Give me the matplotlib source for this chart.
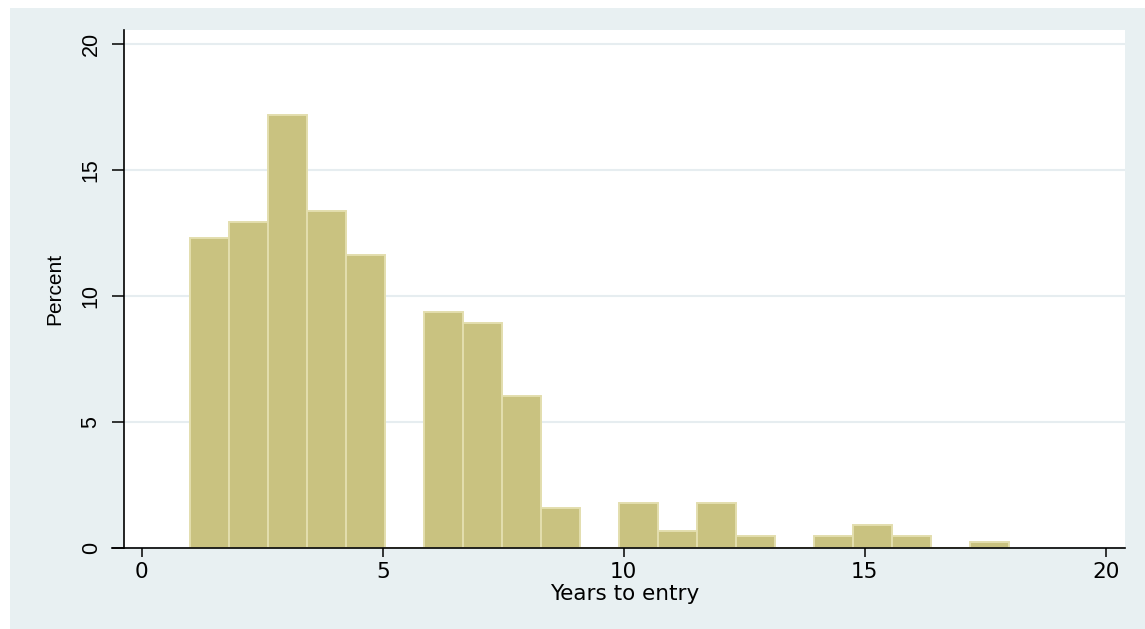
import matplotlib.pyplot as plt
import matplotlib.patches as patches
import numpy as np

plt.rcParams['font.family'] = ['Liberation Sans', 'DejaVu Sans']

# histogram: 21 bins of equal width between 1 and 18 years
bin_start = 1.0
bin_end = 18.0
percent = [12.28, 12.95, 17.19, 13.39, 11.61, 0.0, 9.38, 8.93, 6.03, 1.56,
           0.0, 1.79, 0.67, 1.79, 0.45, 0.0, 0.45, 0.89, 0.45, 0.0, 0.22]

x_ticks = [0, 5, 10, 15, 20]
y_ticks = [0, 5, 10, 15, 20]

bar_color = '#C9C280'
edge_color = '#E3DEAE'
bg_color = '#E8F0F2'
grid_color = '#E6EDF0'

edges = np.linspace(bin_start, bin_end, len(percent) + 1)
widths = np.diff(edges)

fig = plt.figure(figsize=(11.45, 6.29), dpi=100, facecolor='white')
fig.patches.append(patches.Rectangle((10 / 1145, 0), 1 - 10 / 1145, 1 - 8 / 629,
                                     transform=fig.transFigure, facecolor=bg_color,
                                     edgecolor='none', zorder=-10))

ax = fig.add_axes([124 / 1145, 1 - 547.7 / 629, 1001 / 1145, 517.7 / 629])
ax.set_facecolor('white')

ax.bar(edges[:-1], percent, width=widths, align='edge', color=bar_color,
       edgecolor=edge_color, linewidth=1.4, zorder=2)

ax.set_xlim(-0.37, 20.40)
ax.set_ylim(0, 20.56)
ax.set_xticks(x_ticks)
ax.set_yticks(y_ticks)

ax.grid(axis='y', color=grid_color, linewidth=1.5, zorder=0)
ax.set_axisbelow(True)

for side in ['top', 'right']:
    ax.spines[side].set_visible(False)
ax.spines['left'].set_linewidth(1.2)
ax.spines['bottom'].set_linewidth(1.2)
ax.spines['bottom'].set_bounds(-0.62, 20.40)
ax.spines['left'].set_zorder(4)
ax.spines['bottom'].set_zorder(4)

# x-axis text is wider in the original, DejaVu matches its footprint better
ax.tick_params(axis='x', length=6.5, width=1.1, pad=3.5, labelsize=15.5)
for lbl in ax.get_xticklabels():
    lbl.set_family(['DejaVu Sans'])
ax.tick_params(axis='y', length=8.6, width=1.1, pad=7.5, labelsize=15.5, labelrotation=90)
for lbl in ax.get_yticklabels():
    lbl.set_va('center')

ax.set_xlabel('Years to entry', fontsize=15.5, labelpad=2, family=['DejaVu Sans'])
ax.set_ylabel('Percent', fontsize=15, labelpad=12)

fig.savefig('out.png', dpi=100, facecolor='white')
